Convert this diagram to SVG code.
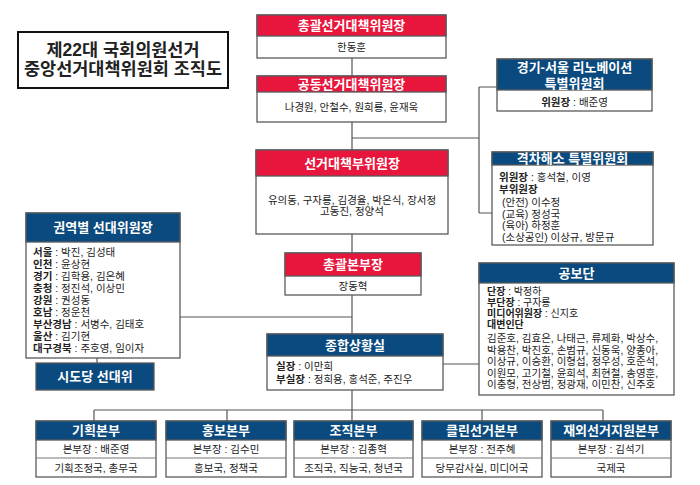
<svg xmlns="http://www.w3.org/2000/svg" width="700" height="485" viewBox="0 0 700 485">
<style>
text{font-family:"Liberation Sans","Noto Sans CJK KR",sans-serif;fill:#222;}
.box{fill:#fff;stroke:#5a5a5a;stroke-width:1.3;}
.red{fill:#E8163C;stroke:#5a5a5a;stroke-width:1.3;}
.navy{fill:#0B4A7E;stroke:#5a5a5a;stroke-width:1.3;}
.sep{stroke:#777;stroke-width:1;}
.h{fill:#fff;font-weight:bold;font-size:13px;text-anchor:middle;}
.b{font-size:10.5px;}
.c{text-anchor:middle;}
.s{font-size:10px;}
.k{font-weight:bold;}
.ln{stroke:#555;stroke-width:1.2;fill:none;}
</style>
<rect width="700" height="485" fill="#fff"/>
<g id="connectors">
<path class="ln" d="M352 58V410"/>
<path class="ln" d="M352 138H479M479 87V213M479 87H497M479 213H492"/>
<path class="ln" d="M180 317H352"/>
<path class="ln" d="M97 358V363"/>
<path class="ln" d="M443 364H479"/>
<path class="ln" d="M94 410H603M94 410V421M227 410V421M352 410V421M482 410V421M603 410V421"/>
</g>
<g id="title">
<rect x="18" y="32" width="210" height="56" fill="#fff" stroke="#111" stroke-width="2"/>
<text x="123" y="55.5" font-size="17.5" font-weight="bold" text-anchor="middle" fill="#111">제22대 국회의원선거</text>
<text x="123" y="75" font-size="17.5" font-weight="bold" text-anchor="middle" fill="#111">중앙선거대책위원회 조직도</text>
</g>
<g id="chair">
<rect class="box" x="257" y="15" width="189" height="43"/>
<rect class="red" x="257" y="15" width="189" height="21"/>
<text class="h" x="351.5" y="30">총괄선거대책위원장</text>
<text class="b c" x="351.5" y="51">한동훈</text>
</g>
<g id="cochair">
<rect class="box" x="257" y="76" width="189" height="46"/>
<rect class="red" x="257" y="76" width="189" height="16"/>
<text class="h" x="351.5" y="88.5">공동선거대책위원장</text>
<text class="b c" x="351.5" y="111">나경원, 안철수, 원희룡, 윤재욱</text>
</g>
<g id="renovation">
<rect class="box" x="497" y="59" width="155" height="52"/>
<rect class="navy" x="497" y="59" width="155" height="31"/>
<text class="h" x="574.5" y="71.5">경기-서울 리노베이션</text>
<text class="h" x="574.5" y="87.5">특별위원회</text>
<text class="b c" x="574.5" y="106"><tspan class="k">위원장</tspan> : 배준영</text>
</g>
<g id="gap">
<rect class="box" x="492" y="152" width="161" height="93"/>
<rect class="navy" x="492" y="152" width="161" height="13"/>
<text class="h" x="572.5" y="163">격차해소 특별위원회</text>
<text class="b" x="499" y="181"><tspan class="k">위원장</tspan> : 홍석철, 이영</text>
<text class="b k" x="499" y="193">부위원장</text>
<text class="b" x="502" y="206">(안전) 이수정</text>
<text class="b" x="502" y="217.5">(교육) 정성국</text>
<text class="b" x="502" y="229">(육아) 하정훈</text>
<text class="b" x="502" y="241">(소상공인) 이상규, 방문규</text>
</g>
<g id="vicechair">
<rect class="box" x="256" y="150" width="192" height="84"/>
<rect class="red" x="256" y="150" width="192" height="26"/>
<text class="h" x="352" y="167.5">선거대책부위원장</text>
<text class="b c" x="352" y="204">유의동, 구자룡, 김경율, 박은식, 장서정</text>
<text class="b c" x="352" y="215">고동진, 정양석</text>
</g>
<g id="hq">
<rect class="box" x="285" y="253" width="136" height="42"/>
<rect class="red" x="285" y="253" width="136" height="23"/>
<text class="h" x="353" y="269">총괄본부장</text>
<text class="b c" x="353" y="289.5">장동혁</text>
</g>
<g id="regional">
<rect class="box" x="26" y="213" width="154" height="145"/>
<rect class="navy" x="26" y="213" width="154" height="29"/>
<text class="h" x="103" y="232">권역별 선대위원장</text>
<text class="b" x="33" y="256"><tspan class="k">서울</tspan> : 박진, 김성태</text>
<text class="b" x="33" y="268"><tspan class="k">인천</tspan> : 윤상현</text>
<text class="b" x="33" y="280"><tspan class="k">경기</tspan> : 김학용, 김은혜</text>
<text class="b" x="33" y="292"><tspan class="k">충청</tspan> : 정진석, 이상민</text>
<text class="b" x="33" y="304"><tspan class="k">강원</tspan> : 권성동</text>
<text class="b" x="33" y="316"><tspan class="k">호남</tspan> : 정운천</text>
<text class="b" x="33" y="328"><tspan class="k">부산경남</tspan> : 서병수, 김태호</text>
<text class="b" x="33" y="340"><tspan class="k">울산</tspan> :  김기현</text>
<text class="b" x="33" y="352"><tspan class="k">대구경북</tspan> : 주호영, 임이자</text>
</g>
<g id="sido">
<rect class="navy" x="36" y="363" width="118" height="27"/>
<text class="h" x="95" y="381" font-size="13.5">시도당 선대위</text>
</g>
<g id="situation">
<rect class="box" x="267" y="334" width="176" height="56"/>
<rect class="navy" x="267" y="334" width="176" height="22"/>
<text class="h" x="355" y="349.5">종합상황실</text>
<text class="b" x="276" y="370"><tspan class="k">실장</tspan> : 이만희</text>
<text class="b" x="276" y="383"><tspan class="k">부실장</tspan> : 정희용, 홍석준, 주진우</text>
</g>
<g id="publicity">
<rect class="box" x="479" y="263" width="195" height="132"/>
<rect class="navy" x="479" y="263" width="195" height="20"/>
<text class="h" x="576.5" y="277.5">공보단</text>
<text class="s" x="487" y="294.5"><tspan class="k">단장</tspan> : 박정하</text>
<text class="s" x="487" y="305.5"><tspan class="k">부단장</tspan> : 구자룡</text>
<text class="s" x="487" y="316.5"><tspan class="k">미디어위원장</tspan> : 신지호</text>
<text class="s k" x="487" y="327.5">대변인단</text>
<text class="b" x="487" y="342">김준호, 김효은, 나태근, 류제화, 박상수,</text>
<text class="b" x="487" y="353.5">박용찬, 박진호, 손범규, 신동욱, 양종아,</text>
<text class="b" x="487" y="365">이상규, 이승환, 이형섭, 정우성, 호준석,</text>
<text class="b" x="487" y="376.5">이원모, 고기철, 윤희석, 최현철, 송영훈,</text>
<text class="b" x="487" y="388">이충형, 전상범, 정광재, 이민찬, 신주호</text>
</g>
<g id="planning">
<rect class="box" x="36" y="421" width="120" height="56"/>
<rect class="navy" x="36" y="421" width="120" height="19"/>
<line class="sep" x1="36" y1="458" x2="156" y2="458"/>
<text class="h" x="96" y="435">기획본부</text>
<text class="b c" x="96" y="453">본부장 : 배준영</text>
<text class="b c" x="96" y="471.5">기획조정국, 총무국</text>
</g>
<g id="pr">
<rect class="box" x="166" y="421" width="120" height="56"/>
<rect class="navy" x="166" y="421" width="120" height="19"/>
<line class="sep" x1="166" y1="458" x2="286" y2="458"/>
<text class="h" x="226" y="435">홍보본부</text>
<text class="b c" x="226" y="453">본부장 : 김수민</text>
<text class="b c" x="226" y="471.5">홍보국, 정책국</text>
</g>
<g id="org">
<rect class="box" x="294" y="421" width="119" height="56"/>
<rect class="navy" x="294" y="421" width="119" height="19"/>
<line class="sep" x1="294" y1="458" x2="413" y2="458"/>
<text class="h" x="353.5" y="435">조직본부</text>
<text class="b c" x="353.5" y="453">본부장 : 김종혁</text>
<text class="b c" x="353.5" y="471.5">조직국, 직능국, 청년국</text>
</g>
<g id="clean">
<rect class="box" x="422" y="421" width="120" height="56"/>
<rect class="navy" x="422" y="421" width="120" height="19"/>
<line class="sep" x1="422" y1="458" x2="542" y2="458"/>
<text class="h" x="482" y="435">클린선거본부</text>
<text class="b c" x="482" y="453">본부장 : 전주혜</text>
<text class="b c" x="482" y="471.5">당무감사실, 미디어국</text>
</g>
<g id="overseas">
<rect class="box" x="551" y="421" width="120" height="56"/>
<rect class="navy" x="551" y="421" width="120" height="19"/>
<line class="sep" x1="551" y1="458" x2="671" y2="458"/>
<text class="h" x="611" y="435">재외선거지원본부</text>
<text class="b c" x="611" y="453">본부장 : 김석기</text>
<text class="b c" x="611" y="471.5">국제국</text>
</g>
</svg>
